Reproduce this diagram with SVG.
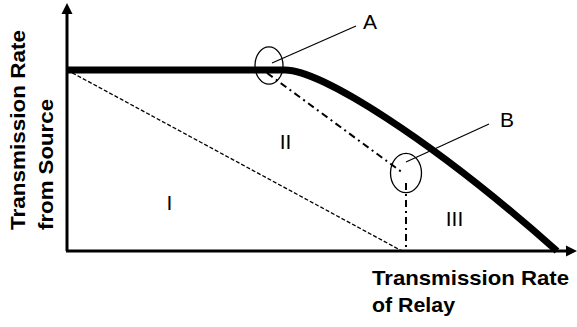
<svg xmlns="http://www.w3.org/2000/svg" width="577" height="327" viewBox="0 0 577 327">
<style>
.axis{stroke:#000;stroke-width:3;fill:none}
.thin{stroke:#000;stroke-width:1.3;fill:none;stroke-dasharray:4,2}
.dd{stroke:#000;stroke-width:2;fill:none;stroke-dasharray:7,4,2,4}
.lead{stroke:#000;stroke-width:1.2;fill:none}
.ell{stroke:#000;stroke-width:1.3;fill:none}
.lbl{font-family:"Liberation Sans",Arial,sans-serif;font-size:21px;fill:#000}
.ax{font-family:"Liberation Sans",Arial,sans-serif;font-size:20.5px;font-weight:bold;fill:#000}
</style>
<rect width="577" height="327" fill="#fff"/>
<g id="connectors">
<path class="axis" d="M67,251 V12"/>
<polygon points="67,3 61.5,14 72.5,14" fill="#000"/>
<path class="axis" d="M66,251 H567"/>
<polygon points="577,251 566,245.5 566,256.5" fill="#000"/>
<path class="thin" d="M67,70 L402,251"/>
<path class="dd" d="M267,73 L403,173"/>
<path class="dd" d="M406,183 V251"/>
<path d="M67,70 L285,70 C320,70 430,138 557,251" stroke="#000" stroke-width="7" fill="none"/>
<path class="lead" d="M272,63 L356,26"/>
<path class="lead" d="M406,162 L489,124"/>
</g>
<g id="nodeA">
<ellipse class="ell" cx="269" cy="65.5" rx="14" ry="18.7"/>
<text class="lbl" x="363" y="29">A</text>
</g>
<g id="nodeB">
<ellipse class="ell" cx="406" cy="173" rx="15.5" ry="19.7"/>
<text class="lbl" x="500" y="127">B</text>
</g>
<g id="regionI"><text class="lbl" x="169.5" y="210" text-anchor="middle">I</text></g>
<g id="regionII"><text class="lbl" x="285.5" y="149" text-anchor="middle">II</text></g>
<g id="regionIII"><text class="lbl" x="454.5" y="226" text-anchor="middle">III</text></g>
<g id="xlabel">
<text class="ax" x="372" y="285" textLength="197" lengthAdjust="spacingAndGlyphs">Transmission Rate</text>
<text class="ax" x="372" y="312" textLength="83" lengthAdjust="spacingAndGlyphs">of Relay</text>
</g>
<g id="ylabel">
<text class="ax" transform="translate(25,230) rotate(-90)" x="0" y="0" textLength="200" lengthAdjust="spacingAndGlyphs">Transmission Rate</text>
<text class="ax" transform="translate(53,230) rotate(-90)" x="0" y="0" textLength="131" lengthAdjust="spacingAndGlyphs">from Source</text>
</g>
</svg>
